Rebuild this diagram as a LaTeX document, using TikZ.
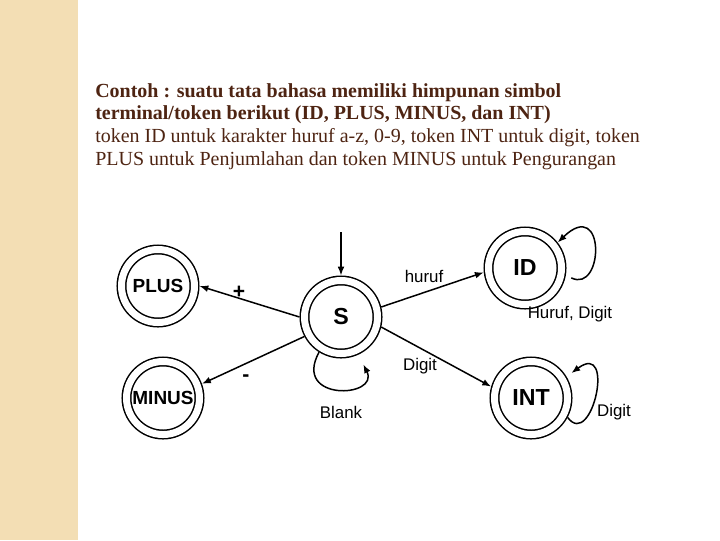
\documentclass[tikz,border=0pt]{standalone}
\usepackage{fontspec}
\setmainfont{Liberation Serif}
\setsansfont{Liberation Sans}
\usetikzlibrary{arrows.meta,positioning}
\definecolor{band}{RGB}{243,222,180}
\definecolor{ink}{RGB}{78,36,18}

\begin{document}
\begin{tikzpicture}[x=0.025cm,y=-0.025cm,>={Latex[length=0.22cm,width=0.17cm]},
  state/.style={circle,draw,double,double distance=0.175cm,line width=0.0375cm,minimum size=1.825cm,inner sep=0pt,outer sep=0.125cm,font=\sffamily\bfseries\fontsize{13.5}{16}\selectfont},
  bigstate/.style={state,font=\sffamily\bfseries\fontsize{16.5}{19}\selectfont},
  trans/.style={->,line width=0.0375cm},
  lbl/.style={font=\sffamily\fontsize{12}{14}\selectfont,inner sep=1pt},
  sign/.style={font=\sffamily\bfseries\fontsize{15}{17}\selectfont,inner sep=1pt}]
% page and left band
\useasboundingbox (0,0) rectangle (720,540);
\fill[band] (0,0) rectangle (78,540);
% heading text
\node[anchor=north west,align=left,text=ink,inner sep=0pt,font=\fontsize{14.2}{16.2}\selectfont] (intro) at (95,83)
  {\textbf{Contoh : suatu tata bahasa memiliki himpunan simbol}\\
   \textbf{terminal/token berikut (ID, PLUS, MINUS, dan INT)}\\
   token ID untuk karakter huruf a-z, 0-9, token INT untuk digit, token\\
   PLUS untuk Penjumlahan dan token MINUS untuk Pengurangan};
% states
\node[state] (PLUS) at (158,286) {PLUS};
\node[state] (MINUS) at (163,398) {MINUS};
\node[bigstate] (S) at (341,317) {S};
\node[bigstate] (ID) at (525,268) {ID};
\node[bigstate] (INT) at (531,398) {INT};
% start arrow
\coordinate (entry) at (341,232);
\draw[trans] (entry) -- (S);
% transitions
\draw[trans] (S.west) -- (PLUS.east);
\draw[trans] (S.208) -- (MINUS.20);
\draw[trans] (S.14) -- (ID.186);
\draw[trans] (S.346) -- (INT.164);
% self loops
\draw[trans,shorten >=0.27cm] (S.238) .. controls (292,402) and (380,398) .. (S.295);
\draw[trans,shorten <=0.15cm] (ID.-10) .. controls (604,294) and (606,196) .. (ID.38);
\draw[trans,shorten >=0.15cm] (INT.-28) .. controls (592,450) and (616,340) .. (INT.31);
% labels
\node[sign] (plus) at (239,292) {+};
\node[sign] (minus) at (246,378) {-};
\node[lbl] (huruf) at (424,276) {huruf};
\node[lbl] (digit) at (420,366) {Digit};
\node[lbl] (hurufdigit) at (570,314) {Huruf, Digit};
\node[lbl] (intdigit) at (614,412) {Digit};
\node[lbl] (blank) at (341,412) {Blank};
\end{tikzpicture}
\end{document}
